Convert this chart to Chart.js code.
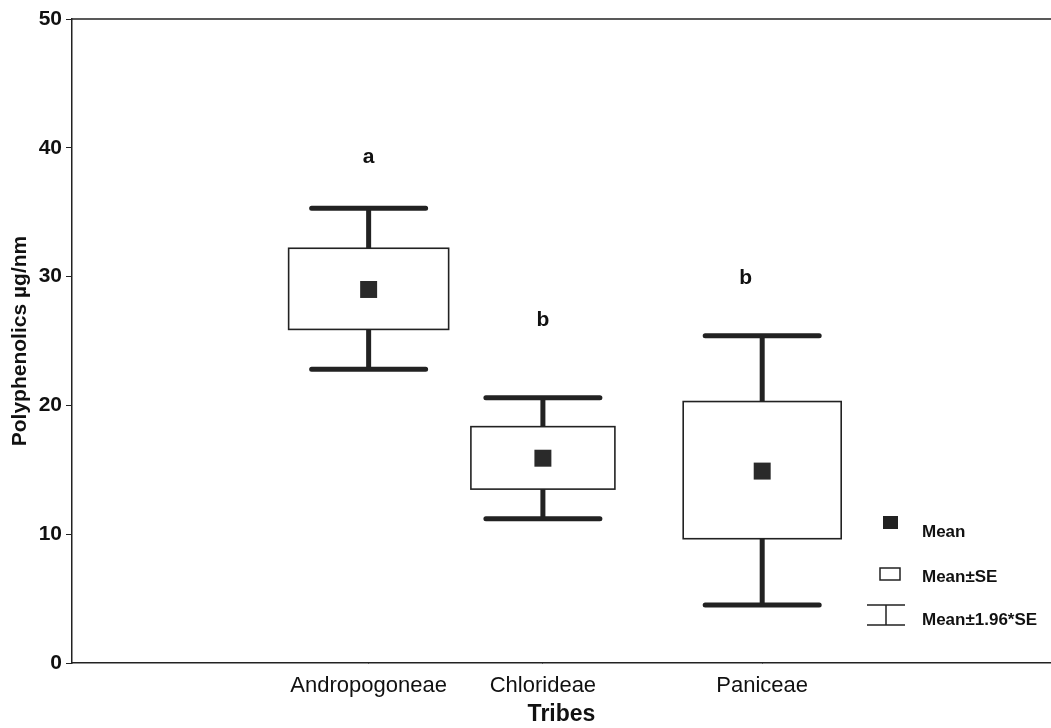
<!DOCTYPE html>
<html>
<head>
<meta charset="utf-8">
<script src="https://cdn.jsdelivr.net/npm/chart.js@4"></script>
<style>
  html, body { margin: 0; padding: 0; background: #fff; overflow: hidden; }
  canvas { display: block; }
</style>
</head>
<body>
<canvas id="chart" width="1051" height="728"></canvas>
<script>
// data
const tribes = ['Andropogoneae', 'Chlorideae', 'Paniceae'];
const tribePos = [3.03, 4.81, 7.05];
const means = [29.0, 15.9, 14.9];
const seLow = [25.9, 13.5, 9.65];
const seHigh = [32.2, 18.35, 20.3];
const ciLow = [22.8, 11.2, 4.5];
const ciHigh = [35.3, 20.6, 25.4];
const groupLetters = ['a', 'b', 'b'];
const letterPos = [3.03, 4.81, 6.88];
const letterY = [39.3, 26.6, 29.9];
const yTicks = [0, 10, 20, 30, 40, 50];

// styling
const FONT = "'Liberation Sans', Arial, sans-serif";
const boxHalf = [80, 72, 79];
const capHalf = 57;

const boxPlugin = {
  id: 'boxes',
  beforeDatasetsDraw(chart) {
    const { ctx, scales: { x, y } } = chart;
    ctx.save();
    tribePos.forEach((p, i) => {
      const cx = x.getPixelForValue(p);
      const yTop = y.getPixelForValue(ciHigh[i]);
      const yBot = y.getPixelForValue(ciLow[i]);
      const bTop = y.getPixelForValue(seHigh[i]);
      const bBot = y.getPixelForValue(seLow[i]);
      // whisker stems
      ctx.strokeStyle = '#222';
      ctx.lineCap = 'butt';
      ctx.lineWidth = 5;
      ctx.beginPath();
      ctx.moveTo(cx, yTop); ctx.lineTo(cx, bTop);
      ctx.moveTo(cx, bBot); ctx.lineTo(cx, yBot);
      ctx.stroke();
      // caps
      ctx.lineCap = 'round';
      ctx.beginPath();
      ctx.moveTo(cx - capHalf, yTop); ctx.lineTo(cx + capHalf, yTop);
      ctx.moveTo(cx - capHalf, yBot); ctx.lineTo(cx + capHalf, yBot);
      ctx.stroke();
      // SE box
      ctx.fillStyle = '#fff';
      ctx.lineWidth = 1.6;
      ctx.fillRect(cx - boxHalf[i], bTop, boxHalf[i] * 2, bBot - bTop);
      ctx.strokeRect(cx - boxHalf[i], bTop, boxHalf[i] * 2, bBot - bTop);
    });
    // group letters
    ctx.fillStyle = '#111';
    ctx.font = 'bold 21px ' + FONT;
    ctx.textAlign = 'center';
    ctx.textBaseline = 'middle';
    groupLetters.forEach((l, i) => {
      ctx.fillText(l, x.getPixelForValue(letterPos[i]), y.getPixelForValue(letterY[i]));
    });
    ctx.restore();
  },
  afterDraw(chart) {
    const { ctx, chartArea } = chart;
    ctx.save();
    // top frame line
    ctx.strokeStyle = '#222';
    ctx.lineWidth = 1.5;
    ctx.beginPath();
    ctx.moveTo(chartArea.left, chartArea.top);
    ctx.lineTo(chartArea.right, chartArea.top);
    ctx.stroke();

    // legend
    const lx = 891, tx = 922;
    ctx.fillStyle = '#222';
    ctx.fillRect(lx - 8, 516, 15, 13);
    ctx.fillStyle = '#fff';
    ctx.lineWidth = 1.5;
    ctx.fillRect(lx - 11, 568, 20, 12);
    ctx.strokeRect(lx - 11, 568, 20, 12);
    ctx.beginPath();
    ctx.moveTo(867, 605); ctx.lineTo(905, 605);
    ctx.moveTo(886, 605); ctx.lineTo(886, 625);
    ctx.moveTo(867, 625); ctx.lineTo(905, 625);
    ctx.stroke();

    ctx.fillStyle = '#111';
    ctx.font = 'bold 17px ' + FONT;
    ctx.textAlign = 'left';
    ctx.textBaseline = 'middle';
    ctx.fillText('Mean', tx, 532);
    ctx.fillText('Mean\u00b1SE', tx, 577);
    ctx.fillText('Mean\u00b11.96*SE', tx, 620);
    ctx.restore();
  }
};

const meanData = tribePos.map((p, i) => ({ x: p, y: means[i] }));

new Chart(document.getElementById('chart'), {
  type: 'scatter',
  data: {
    datasets: [{
      label: 'Mean',
      data: meanData,
      pointStyle: 'rect',
      pointRadius: 12,
      backgroundColor: '#2a2a2a',
      borderColor: '#2a2a2a',
      borderWidth: 0
    }]
  },
  options: {
    responsive: false,
    animation: false,
    layout: { autoPadding: false, padding: { top: 19, right: 0, left: 0, bottom: 0 } },
    plugins: {
      legend: { display: false },
      tooltip: { enabled: false }
    },
    scales: {
      x: {
        type: 'linear',
        min: 0,
        max: 10,
        afterBuildTicks(axis) {
          axis.ticks = tribePos.map(v => ({ value: v }));
        },
        afterFit(axis) {
          axis.height = 65;
          axis.paddingLeft = 0;
          axis.paddingRight = 0;
        },
        grid: { display: true, drawOnChartArea: false, tickLength: 0, color: '#222' },
        border: { display: true, color: '#222', width: 1.5 },
        ticks: {
          color: '#111',
          padding: 10,
          font: { family: FONT, size: 22 },
          callback: (v) => {
            const i = tribePos.indexOf(v);
            return i >= 0 ? tribes[i] : '';
          }
        },
        title: {
          display: true,
          text: 'Tribes',
          color: '#111',
          padding: { top: 2, bottom: 0 },
          font: { family: FONT, size: 23, weight: 'bold' }
        }
      },
      y: {
        min: 0,
        max: 50,
        afterBuildTicks(axis) {
          axis.ticks = yTicks.map(v => ({ value: v }));
        },
        afterFit(axis) { axis.width = 72; },
        grid: { display: true, drawOnChartArea: false, tickLength: 6, color: '#222' },
        border: { display: true, color: '#222', width: 1.5 },
        ticks: {
          color: '#111',
          padding: 4,
          font: { family: FONT, size: 21, weight: 'bold' }
        },
        title: {
          display: true,
          text: 'Polyphenolics \u00b5g/nm',
          color: '#111',
          padding: { top: 8, bottom: 0 },
          font: { family: FONT, size: 21, weight: 'bold' }
        }
      }
    }
  },
  plugins: [boxPlugin]
});
</script>
</body>
</html>
